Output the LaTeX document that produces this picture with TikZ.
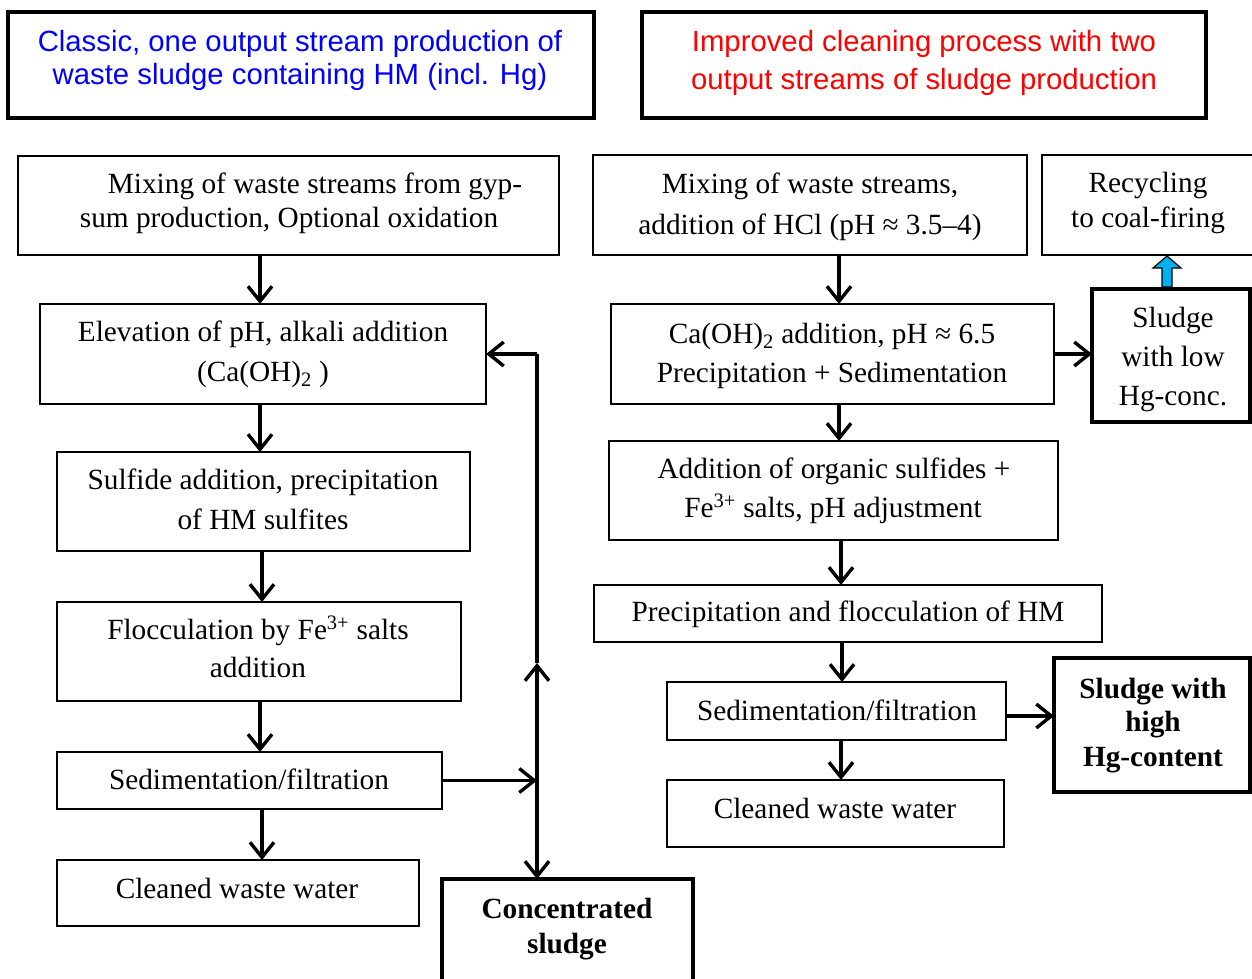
\documentclass[tikz,border=0pt]{standalone}
\usepackage{fontspec}
\setmainfont{Liberation Serif}
\newfontfamily\headfont{Liberation Sans}
\usetikzlibrary{arrows.meta,calc}

% rectangle node from its top-left to its bottom-right corner
\newcommand\bx[6][box]{\node[#1, minimum width={#5-#3}, minimum height={#6-#4}] (#2) at (#3,#4) {};}

\definecolor{headblue}{RGB}{0,0,255}
\definecolor{headred}{RGB}{255,0,0}
\definecolor{recblue}{RGB}{0,176,240}

\begin{document}
\begin{tikzpicture}[x=1pt,y=-1pt,
  box/.style={draw, line width=1.8pt, anchor=north west, inner sep=0pt, outer sep=0pt},
  heavy/.style={box, line width=3.8pt},
  titlebox/.style={box, line width=3.2pt},
  txt/.style={anchor=base, inner sep=0pt, font=\fontsize{29.3}{34}\selectfont},
  btxt/.style={txt, font=\fontsize{29.3}{34}\selectfont\bfseries},
  htxt/.style={anchor=base, inner sep=0pt, font=\headfont\fontsize{29.3}{34}\selectfont},
  arr/.style={line width=3.4pt, -{Straight Barb[length=15pt,width=24pt]}},
  link/.style={line width=3.4pt}
]
\useasboundingbox (0,0) rectangle (1252,979);

% ---------- headings ----------
\bx[titlebox]{tl}{8}{12}{594}{118}
\node[htxt, text=headblue] (tla) at (300,52) {Classic, one output stream production of};
\node[htxt, text=headblue] (tlb) at (300,85) {waste sludge containing HM (incl. Hg)};
\bx[titlebox]{tr}{642}{12}{1206}{118}
\node[htxt, text=headred] (tra) at (924,52) {Improved cleaning process with two};
\node[htxt, text=headred] (trb) at (924,90) {output streams of sludge production};

% ---------- classic process ----------
\bx{L1}{18}{156}{559}{255}
\node[txt] (l1a) at (315,193) {Mixing of waste streams from gyp-};
\node[txt] (l1b) at (289,227) {sum production, Optional oxidation};
\bx{L2}{40}{304}{486}{404}
\node[txt] (l2a) at (263,341) {Elevation of pH, alkali addition};
\node[txt] (l2b) at (263,381) {(Ca(OH)\textsubscript{2} )};
\bx{L3}{57}{452}{470}{551}
\node[txt] (l3a) at (263,489) {Sulfide addition, precipitation};
\node[txt] (l3b) at (263,529) {of HM sulfites};
\bx{L4}{57}{602}{461}{701}
\node[txt] (l4a) at (258,639) {Flocculation by Fe\textsuperscript{3+} salts};
\node[txt] (l4b) at (258,677) {addition};
\bx{L5}{57}{752}{442}{809}
\node[txt] (l5a) at (249,789) {Sedimentation/filtration};
\bx{L6}{57}{860}{419}{926}
\node[txt] (l6a) at (237,898) {Cleaned waste water};
\bx[heavy]{CS}{442}{879}{693}{985}
\node[btxt] (csa) at (567,918) {Concentrated};
\node[btxt] (csb) at (567,953) {sludge};

\draw[arr] (260,0 |- L1.south) -- (260,0 |- L2.north);
\draw[arr] (260,0 |- L2.south) -- (260,0 |- L3.north);
\draw[arr] (262,0 |- L3.south) -- (262,0 |- L4.north);
\draw[arr] (260,0 |- L4.south) -- (260,0 |- L5.north);
\draw[arr] (262,0 |- L5.south) -- (262,0 |- L6.north);

% sludge return loop
\coordinate (jn) at (537,0 |- L5.east);
\coordinate (up) at (537,663);
\coordinate (top) at (537,354);
\draw[arr] (L5.east) -- (jn);
\draw[arr] (jn) -- (up);
\draw[link] (up) -- (top);
\draw[arr] (top) -- (L2.east |- top);
\draw[arr] (jn) -- (jn |- CS.north);

% ---------- improved process ----------
\bx{R1}{593}{155}{1027}{255}
\node[txt] (r1a) at (810,193) {Mixing of waste streams,};
\node[txt] (r1b) at (810,234) {addition of HCl (pH ≈ 3.5–4)};
\bx{R2}{611}{304}{1054}{404}
\node[txt] (r2a) at (832,343) {Ca(OH)\textsubscript{2} addition, pH ≈ 6.5};
\node[txt] (r2b) at (832,382) {Precipitation + Sedimentation};
\bx{R3}{609}{441}{1058}{540}
\node[txt] (r3a) at (834,478) {Addition of organic sulfides +};
\node[txt] (r3b) at (833,517) {Fe\textsuperscript{3+} salts, pH adjustment};
\bx{R4}{594}{585}{1102}{642}
\node[txt] (r4a) at (848,621) {Precipitation and flocculation of HM};
\bx{R5}{667}{682}{1006}{740}
\node[txt] (r5a) at (837,720) {Sedimentation/filtration};
\bx{R6}{667}{780}{1004}{847}
\node[txt] (r6a) at (835,818) {Cleaned waste water};

\bx{RC}{1042}{155}{1270}{255}
\node[txt] (rca) at (1148,192) {Recycling};
\node[txt] (rcb) at (1148,227) {to coal-firing};
\bx[heavy]{LO}{1092}{289}{1250}{422}
\node[txt] (loa) at (1173,327) {Sludge};
\node[txt] (lob) at (1173,366) {with low};
\node[txt] (loc) at (1173,405) {Hg-conc.};
\bx[heavy]{HI}{1054}{658}{1250}{792}
\node[btxt] (hia) at (1153,698) {Sludge with};
\node[btxt] (hib) at (1153,731) {high};
\node[btxt] (hic) at (1153,766) {Hg-content};

\draw[arr] (839,0 |- R1.south) -- (839,0 |- R2.north);
\draw[arr] (839,0 |- R2.south) -- (839,0 |- R3.north);
\draw[arr] (841,0 |- R3.south) -- (841,0 |- R4.north);
\draw[arr] (842,0 |- R4.south) -- (842,0 |- R5.north);
\draw[arr] (841,0 |- R5.south) -- (841,0 |- R6.north);
\draw[arr] (R2.east |- 0,354) -- (LO.west |- 0,354);
\draw[arr] (R5.east |- 0,716) -- (HI.west |- 0,716);

% block arrow from the low-Hg sludge up to recycling
\coordinate (ba) at (1167,0 |- LO.north);
\coordinate (bb) at (1167,0 |- RC.south);
\filldraw[fill=recblue, draw=black, line width=1.2pt]
  ($(ba)+(-5,-2)$) -- ($(ba)+(-5,-21)$) -- ($(ba)+(-14,-21)$) -- ($(bb)+(0,1)$)
  -- ($(ba)+(14,-21)$) -- ($(ba)+(5,-21)$) -- ($(ba)+(5,-2)$) -- cycle;
\end{tikzpicture}
\end{document}
